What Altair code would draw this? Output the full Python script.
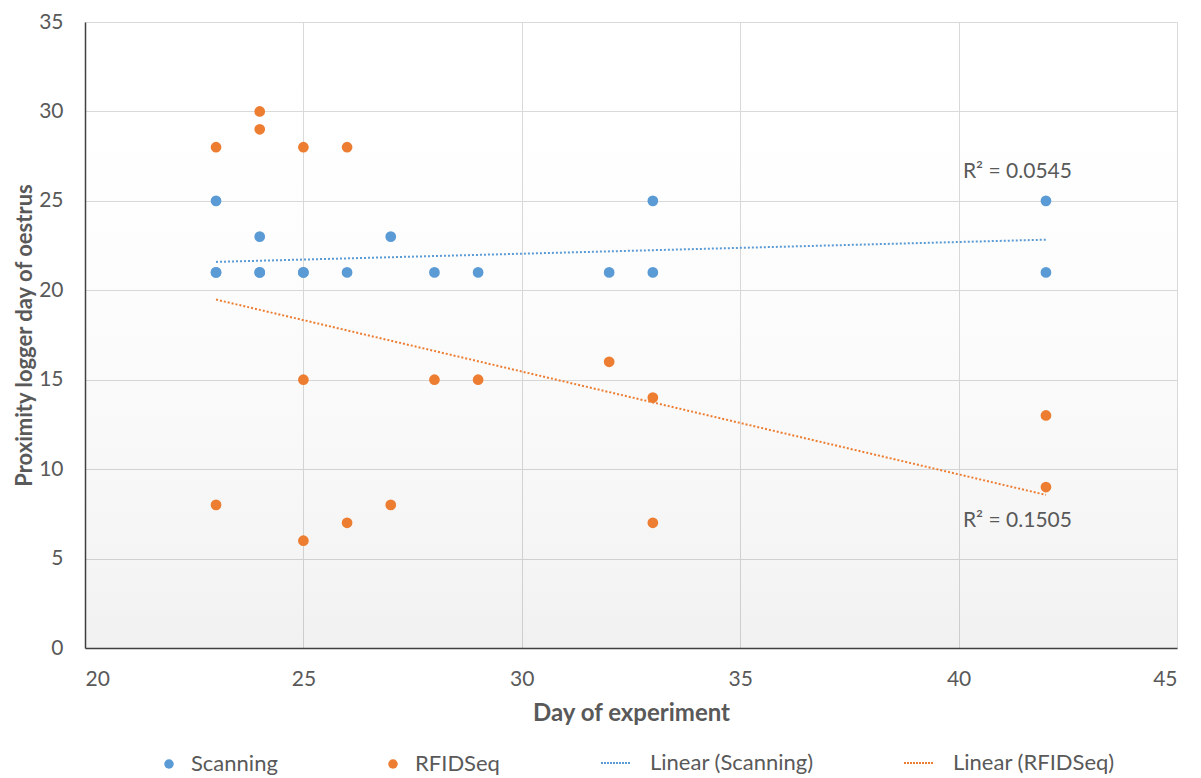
import altair as alt
import pandas as pd

# Data (three overlapping Scanning points at 21 are
# inferred from the plotted trendline / R² value)
scan_day = [23, 23, 24, 24, 25, 26, 27, 28, 29, 32, 33, 33, 42, 42, 23, 24, 25]
scan_val = [25, 21, 23, 21, 21, 21, 23, 21, 21, 21, 25, 21, 25, 21, 21, 21, 21]
rfid_day = [23, 23, 24, 24, 25, 25, 25, 26, 26, 27, 28, 29, 32, 33, 33, 42, 42]
rfid_val = [28, 8, 30, 29, 28, 15, 6, 28, 7, 8, 15, 15, 16, 14, 7, 13, 9]

point_names = ["Scanning", "RFIDSeq"]
line_names = ["Linear (Scanning)", "Linear (RFIDSeq)"]
series_colors = ["#5B9BD5", "#ED7D31"]

x_ticks = [20, 25, 30, 35, 40, 45]
y_ticks = [0, 5, 10, 15, 20, 25, 30, 35]

r2_labels = ["R² = 0.0545", "R² = 0.1505"]
r2_x = [40.1, 40.1]
r2_y = [26.6, 7.1]

W, H = 1092, 626
FONT = "Lato"
GREY = "#595959"

pts = pd.DataFrame({
    "day": scan_day + rfid_day,
    "value": scan_val + rfid_val,
    "series": ["Scanning"] * len(scan_day) + ["RFIDSeq"] * len(rfid_day),
})
ann = pd.DataFrame({"label": r2_labels, "day": r2_x, "value": r2_y})

xs = alt.Scale(domain=[x_ticks[0], x_ticks[-1]], nice=False, zero=False)
ys = alt.Scale(domain=[y_ticks[0], y_ticks[-1]], nice=False)

leg_common = dict(
    title=None, orient="none", direction="horizontal", labelLimit=400,
    labelFontSize=22, labelColor=GREY, labelFont=FONT,
)
pt_legend = alt.Legend(legendX=73, legendY=731, columnPadding=104, labelOffset=11,
                       symbolType="circle", symbolSize=90, **leg_common)
ln_legend = alt.Legend(legendX=515, legendY=725, columnPadding=86, labelOffset=18,
                       symbolType="stroke", symbolSize=900, symbolStrokeWidth=2,
                       symbolDash=[2, 1], **leg_common)

x_enc = alt.X("day:Q", scale=xs, title="Day of experiment",
              axis=alt.Axis(values=x_ticks, format="d"))
y_enc = alt.Y("value:Q", scale=ys, title="Proximity logger day of oestrus",
              axis=alt.Axis(values=y_ticks, format="d"))

base = alt.Chart(pts)

shade = alt.Chart(pd.DataFrame({"a": [0]})).mark_rect(
    color=alt.LinearGradient(
        gradient="linear", x1=0, y1=0, x2=0, y2=1,
        stops=[alt.GradientStop(offset=0, color="rgba(230,240,255,0.0)"),
               alt.GradientStop(offset=1, color="rgba(0,0,0,0.055)")],
    )
).encode(x=alt.value(0), x2=alt.value(W), y=alt.value(0), y2=alt.value(H))

lines = base.transform_regression(
    "day", "value", groupby=["series"]
).transform_calculate(
    trend="'Linear (' + datum.series + ')'"
).mark_line(strokeDash=[2, 2], strokeWidth=2).encode(
    x=x_enc, y=y_enc,
    stroke=alt.Stroke("trend:N", scale=alt.Scale(domain=line_names, range=series_colors),
                      legend=ln_legend),
)

points = base.mark_circle(size=115, opacity=1).encode(
    x=x_enc, y=y_enc,
    fill=alt.Fill("series:N", scale=alt.Scale(domain=point_names, range=series_colors),
                  legend=pt_legend),
)

text = alt.Chart(ann).mark_text(
    align="left", baseline="middle", fontSize=21, font=FONT, color=GREY
).encode(x=alt.X("day:Q", scale=xs), y=alt.Y("value:Q", scale=ys), text="label:N")

chart = alt.layer(shade, lines, points, text).properties(
    width=W, height=H,
    autosize=alt.AutoSizeParams(type="none"),
    padding={"left": 77, "top": 14, "right": 16, "bottom": 130},
).configure_view(
    stroke=None, fill="white"
).configure_axis(
    grid=True, gridColor="#d9d9d9", gridWidth=1,
    ticks=False, labelFontSize=21, labelColor=GREY, labelFont=FONT,
    titleFontSize=24, titleFont=FONT, titleColor=GREY, titleFontWeight="bold",
    domainColor="#404040", domainWidth=1.5,
).configure_axisX(
    labelPadding=20, titlePadding=12
).configure_axisY(
    labelPadding=22, titlePadding=2, titleFontSize=22
)

chart.save("out.html", embed_options={"renderer": "svg", "actions": False})
